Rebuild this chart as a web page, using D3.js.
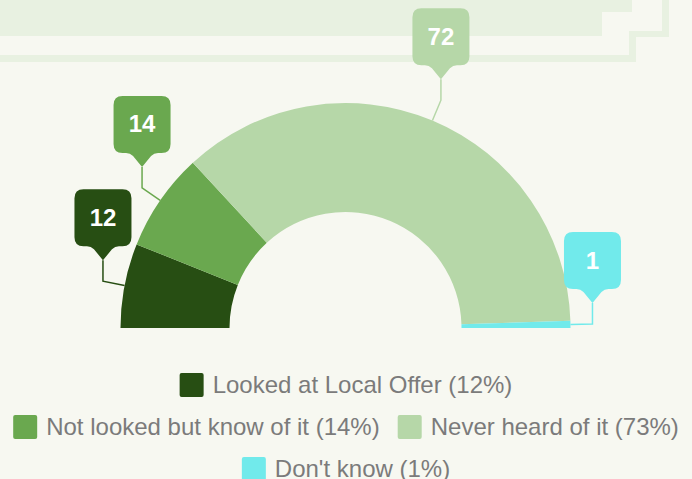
<!DOCTYPE html>
<html>
<head>
<meta charset="utf-8">
<script src="https://cdn.jsdelivr.net/npm/d3@7"></script>
<style>
  html, body { margin: 0; padding: 0; background: #f7f8f1; }
  svg { display: block; font-family: "Liberation Sans", Arial, sans-serif; }
</style>
</head>
<body>
<svg id="chart"></svg>
<script>
const categories = ['Looked at Local Offer', 'Not looked but know of it', 'Never heard of it', "Don't know"];
const values = [12, 14, 72, 1];
const colors = ['#274e13', '#6aa84f', '#b6d7a8', '#71eaeb'];
const legendRows = [[0], [1, 2], [3]];

const W = 692, H = 479;
const cx = 345.5, cy = 328, outerR = 225, innerR = 116;

const svg = d3.select('#chart').attr('width', W).attr('height', H);

// background decoration (stepped band at the top)
const deco = svg.append('g').attr('fill', '#e8f1e1');
deco.append('rect').attr('x', 0).attr('y', 0).attr('width', 602).attr('height', 36);
deco.append('rect').attr('x', 0).attr('y', 0).attr('width', 632).attr('height', 12);
deco.append('rect').attr('x', 0).attr('y', 55).attr('width', 636).attr('height', 7);
deco.append('rect').attr('x', 629).attr('y', 31).attr('width', 7).attr('height', 31);
deco.append('rect').attr('x', 629).attr('y', 31).attr('width', 40).attr('height', 6);
deco.append('rect').attr('x', 662).attr('y', 0).attr('width', 7).attr('height', 37);

const total = d3.sum(values);
const pie = d3.pie().sort(null).startAngle(-Math.PI / 2).endAngle(Math.PI / 2);
const arcs = pie(values);
const arc = d3.arc().innerRadius(innerR).outerRadius(outerR);
const edgeArc = d3.arc().innerRadius(outerR).outerRadius(outerR);
const elbowArc = d3.arc().innerRadius(outerR + 22).outerRadius(outerR + 22);

const g = svg.append('g').attr('transform', 'translate(' + cx + ',' + cy + ')');

g.selectAll('path.slice')
  .data(arcs)
  .enter()
  .append('path')
  .attr('class', 'slice')
  .attr('d', arc)
  .attr('fill', (d, i) => colors[i]);

// callout labels
const boxW = 57, boxH = 57, ptrH = 14, ptrW = 12, rad = 9, rise = 21;
const calloutPath = (tx, ty) => {
  const l = tx - boxW / 2, r = tx + boxW / 2, b = ty - ptrH, t = b - boxH;
  return 'M' + (l + rad) + ',' + t +
    'H' + (r - rad) + 'Q' + r + ',' + t + ' ' + r + ',' + (t + rad) +
    'V' + (b - rad) + 'Q' + r + ',' + b + ' ' + (r - rad) + ',' + b +
    'H' + (tx + ptrW + 4) + 'Q' + (tx + ptrW) + ',' + b + ' ' + (tx + ptrW - 3) + ',' + (b + 3) +
    'L' + tx + ',' + ty +
    'L' + (tx - ptrW + 3) + ',' + (b + 3) + 'Q' + (tx - ptrW) + ',' + b + ' ' + (tx - ptrW - 4) + ',' + b +
    'H' + (l + rad) + 'Q' + l + ',' + b + ' ' + l + ',' + (b - rad) +
    'V' + (t + rad) + 'Q' + l + ',' + t + ' ' + (l + rad) + ',' + t + 'Z';
};

const labels = g.selectAll('g.label')
  .data(arcs)
  .enter()
  .append('g')
  .attr('class', 'label');

labels.each(function(d, i) {
  const sel = d3.select(this);
  const p0 = edgeArc.centroid(d);
  const p1 = elbowArc.centroid(d);
  const tip = [p1[0], p1[1] - rise];
  sel.append('polyline')
    .attr('points', [p0, p1, tip].map((p) => p.join(',')).join(' '))
    .attr('fill', 'none')
    .attr('stroke', colors[i])
    .attr('stroke-width', 1.5);
  sel.append('path')
    .attr('d', calloutPath(tip[0], tip[1]))
    .attr('fill', colors[i]);
  sel.append('text')
    .attr('x', tip[0])
    .attr('y', tip[1] - ptrH - boxH / 2 + 8)
    .attr('text-anchor', 'middle')
    .attr('font-size', 24)
    .attr('font-weight', 'bold')
    .attr('fill', '#ffffff')
    .text(d.data);
});

// legend
const legend = svg.append('g');
const swatch = 24, gapText = 9, gapItem = 18, rowStart = 385, rowStep = 42;
legendRows.forEach((row, r) => {
  const rowG = legend.append('g');
  let x = 0;
  row.forEach((idx) => {
    const item = rowG.append('g').attr('transform', 'translate(' + x + ',0)');
    item.append('rect')
      .attr('x', 0)
      .attr('y', -swatch / 2)
      .attr('width', swatch)
      .attr('height', swatch)
      .attr('rx', 2)
      .attr('fill', colors[idx]);
    const txt = item.append('text')
      .attr('x', swatch + gapText)
      .attr('y', 8)
      .attr('font-size', 24)
      .attr('fill', '#7b7b7b')
      .text(categories[idx] + ' (' + Math.round(values[idx] / total * 100) + '%)');
    x += swatch + gapText + txt.node().getComputedTextLength() + gapItem;
  });
  const rowW = x - gapItem;
  rowG.attr('transform', 'translate(' + (W / 2 - rowW / 2) + ',' + (rowStart + r * rowStep) + ')');
});
</script>
</body>
</html>
